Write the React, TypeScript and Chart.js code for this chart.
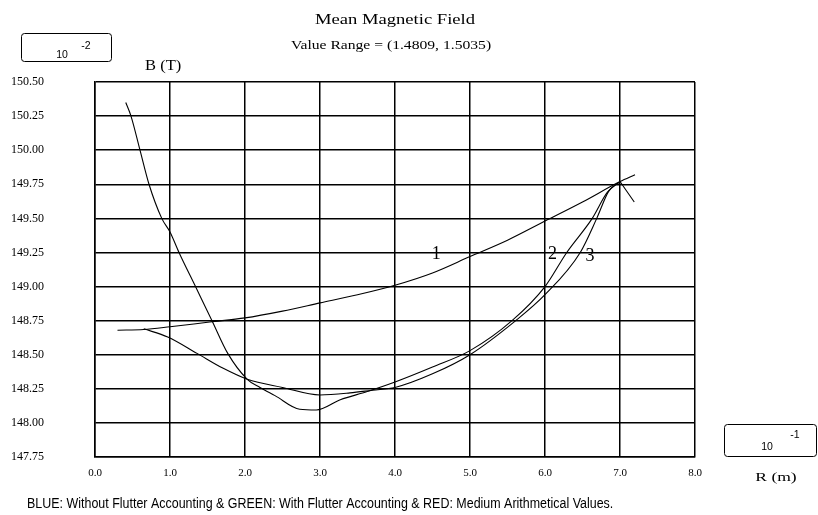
import React, { useEffect, useRef } from "react";
import { Chart, registerables } from "chart.js";

Chart.register(...registerables);

// ---- data (R in 10^-1 m, B in 10^-2 T) ----
const xTicks = [0, 1, 2, 3, 4, 5, 6, 7, 8];
const yTicks = [147.75, 148.0, 148.25, 148.5, 148.75, 149.0, 149.25, 149.5, 149.75, 150.0, 150.25, 150.5];

// curve 1
const curve1R = [0.3, 0.65, 1.0, 1.53, 2.0, 2.5, 3.0, 3.5, 4.0, 4.5, 5.0, 5.5, 6.0, 6.5, 7.0, 7.2];
const curve1B = [148.68, 148.685, 148.705, 148.74, 148.77, 148.82, 148.88, 148.94, 149.01, 149.1, 149.22, 149.34, 149.48, 149.62, 149.77, 149.82];

// curve 2
const curve2R = [0.41, 0.48, 0.6, 0.72, 0.89, 1.0, 1.12, 1.34, 1.56, 1.77, 2.03, 2.2, 2.4, 2.73, 2.95, 3.27, 3.63, 4.0, 4.5, 5.0, 5.56, 6.0, 6.29, 6.63, 6.83, 7.0];
const curve2B = [150.35, 150.25, 150.0, 149.75, 149.5, 149.4, 149.25, 149.0, 148.75, 148.51, 148.32, 148.26, 148.2, 148.1, 148.095, 148.17, 148.23, 148.3, 148.41, 148.53, 148.75, 149.0, 149.25, 149.5, 149.69, 149.77];

// curve 3
const curve3R = [0.65, 0.97, 1.36, 1.71, 2.03, 2.5, 3.0, 3.4, 3.7, 4.0, 4.5, 5.0, 5.61, 6.0, 6.47, 6.69, 6.85, 7.0];
const curve3B = [148.69, 148.63, 148.51, 148.4, 148.32, 148.26, 148.205, 148.22, 148.24, 148.26, 148.36, 148.5, 148.75, 148.94, 149.25, 149.5, 149.7, 149.77];

// pointer stroke at the meeting point
const pointerR = [7.0, 7.19];
const pointerB = [149.77, 149.62];

const curveLabels = ["1", "2", "3"];
const curveLabelR = [4.55, 6.1, 6.6];
const curveLabelB = [149.25, 149.25, 149.24];

const toPoints = (xs: number[], ys: number[]) => xs.map((x, i) => ({ x, y: ys[i] }));

function drawText(
  ctx: CanvasRenderingContext2D,
  text: string,
  x: number,
  y: number,
  font: string,
  align: CanvasTextAlign = "left",
  sx = 1
) {
  ctx.save();
  ctx.translate(x, y);
  ctx.scale(sx, 1);
  ctx.font = font;
  ctx.fillStyle = "#000";
  ctx.textAlign = align;
  ctx.textBaseline = "alphabetic";
  ctx.fillText(text, 0, 0);
  ctx.restore();
}

const decorPlugin = {
  id: "decor",
  afterDraw(chart: any) {
    const ctx: CanvasRenderingContext2D = chart.ctx;
    const ca = chart.chartArea;
    const xs = chart.scales.x;
    const ys = chart.scales.y;
    const serif = '"Liberation Serif", "Times New Roman", serif';
    const sans = '"Liberation Sans", Arial, sans-serif';
    const cx = (ca.left + ca.right) / 2;

    // titles
    drawText(ctx, "Mean Magnetic Field", cx, 24, `15.5px ${serif}`, "center", 1.2);
    drawText(ctx, "Value Range = (1.4809, 1.5035)", cx - 4, 49, `12.5px ${serif}`, "center", 1.25);

    // axis titles
    drawText(ctx, "B (T)", ca.left + 50, 70, `15px ${serif}`, "left", 1.1);
    drawText(ctx, "R (m)", 776, 481, `13.5px ${serif}`, "center", 1.3);

    // exponent boxes
    ctx.save();
    ctx.strokeStyle = "#000";
    ctx.lineWidth = 1;
    ctx.beginPath();
    ctx.roundRect(21.5, 33.5, 90, 28, 3);
    ctx.stroke();
    ctx.beginPath();
    ctx.roundRect(724.5, 424.5, 92, 32, 3);
    ctx.stroke();
    ctx.restore();
    drawText(ctx, "10", 62, 58, `10.5px ${sans}`, "center");
    drawText(ctx, "-2", 86, 49, `10.5px ${sans}`, "center");
    drawText(ctx, "10", 767, 450, `10.5px ${sans}`, "center");
    drawText(ctx, "-1", 795, 438, `10.5px ${sans}`, "center");

    // curve labels
    curveLabels.forEach((t, i) => {
      drawText(
        ctx,
        t,
        xs.getPixelForValue(curveLabelR[i]),
        ys.getPixelForValue(curveLabelB[i]) + 7,
        `18px ${serif}`,
        "center"
      );
    });

    // footer
    drawText(
      ctx,
      "BLUE: Without Flutter Accounting & GREEN: With Flutter Accounting & RED: Medium Arithmetical Values.",
      27,
      508,
      `14px ${sans}`,
      "left",
      0.89
    );
  },
};

export default function App() {
  const ref = useRef<HTMLCanvasElement | null>(null);

  useEffect(() => {
    if (!ref.current) return;
    const lineStyle = {
      borderColor: "#000",
      borderWidth: 1.1,
      pointRadius: 0,
      fill: false,
      cubicInterpolationMode: "monotone" as const,
    };
    const chart = new Chart(ref.current, {
      type: "line",
      data: {
        datasets: [
          { label: "1", data: toPoints(curve1R, curve1B), ...lineStyle },
          { label: "2", data: toPoints(curve2R, curve2B), ...lineStyle },
          { label: "3", data: toPoints(curve3R, curve3B), ...lineStyle },
          { label: "pointer", data: toPoints(pointerR, pointerB), ...lineStyle },
        ],
      },
      options: {
        animation: false,
        responsive: true,
        maintainAspectRatio: false,
        events: [],
        layout: { padding: { left: 11, right: 123, top: 82, bottom: 35 } },
        plugins: {
          legend: { display: false },
          tooltip: { enabled: false },
          title: { display: false },
        },
        scales: {
          x: {
            type: "linear",
            min: 0,
            max: 8,
            afterBuildTicks: (s: any) => {
              s.ticks = xTicks.map((v) => ({ value: v }));
            },
            ticks: {
              callback: (v: any) => Number(v).toFixed(1),
              color: "#000",
              font: { family: '"Liberation Serif", serif', size: 11 },
              padding: 10,
              maxRotation: 0,
            },
            grid: { color: "#000", lineWidth: 1.5, drawTicks: false },
            border: { color: "#000", width: 1.5 },
            afterFit: (s: any) => {
              s.height = 23;
            },
          },
          y: {
            type: "linear",
            min: 147.75,
            max: 150.5,
            afterBuildTicks: (s: any) => {
              s.ticks = yTicks.map((v) => ({ value: v }));
            },
            ticks: {
              callback: (v: any) => Number(v).toFixed(2),
              color: "#000",
              font: { family: '"Liberation Serif", serif', size: 12 },
              crossAlign: "far",
              padding: 0,
            },
            grid: { color: "#000", lineWidth: 1.5, drawTicks: false },
            border: { color: "#000", width: 1.5 },
            afterFit: (s: any) => {
              s.width = 84;
            },
          },
        },
      },
      plugins: [decorPlugin],
    });
    return () => chart.destroy();
  }, []);

  return (
    <div style={{ position: "absolute", left: 0, top: 0, width: 818, height: 515, background: "#fff" }}>
      <canvas ref={ref} />
    </div>
  );
}
